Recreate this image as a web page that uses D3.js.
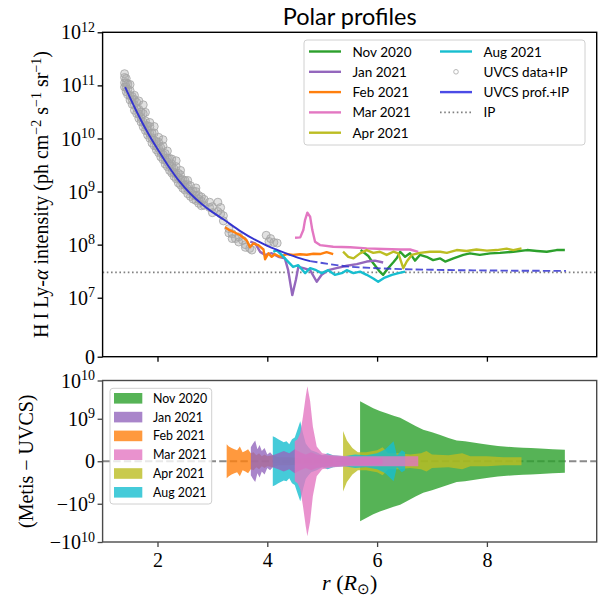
<!DOCTYPE html>
<html>
<head>
<meta charset="utf-8">
<script src="https://cdn.jsdelivr.net/npm/d3@7"></script>
<style>
  body { margin: 0; background: #fff; }
  svg { display: block; }
</style>
</head>
<body>
<svg id="chart" width="601" height="602"></svg>
<script>
// ---------------- data ----------------
const months = ["Nov 2020", "Jan 2021", "Feb 2021", "Mar 2021", "Apr 2021", "Aug 2021"];
const monthColors = ["#2ca02c", "#9467bd", "#ff7f0e", "#e377c2", "#bcbd22", "#17becf"];

// interplanetary (IP) background level
const ipLevel = 3.0e7;

// UVCS fitted profile (+IP): solid within the data range, dashed beyond
const uvcsProfR = [1.41, 1.6, 1.8, 2.0, 2.2, 2.4, 2.6, 2.8, 3.0, 3.2, 3.5, 3.8, 4.0, 4.2, 4.4, 4.6, 4.78];
const uvcsProfI = [9.3e10, 3.55e10, 1.41e10, 6.3e9, 3.0e9, 1.55e9, 9.1e8, 5.9e8, 4.1e8, 3.0e8, 1.82e8, 1.2e8, 9.5e7, 7.8e7, 6.5e7, 5.5e7, 4.9e7];
const uvcsExtR = [4.78, 5.0, 5.5, 6.0, 6.5, 7.0, 7.5, 8.0, 8.5, 9.0, 9.44];
const uvcsExtI = [4.9e7, 4.5e7, 3.85e7, 3.6e7, 3.45e7, 3.36e7, 3.3e7, 3.26e7, 3.23e7, 3.21e7, 3.2e7];

// UVCS measurements (+IP): [r, intensity]
const uvcsData = [
  [1.40, 9.3e10], [1.40, 1.12e11], [1.40, 1.41e11], [1.40, 1.66e11],
  [1.43, 7.6e10], [1.43, 9.3e10], [1.43, 1.12e11], [1.43, 1.35e11],
  [1.46, 6.7e10], [1.46, 8.4e10], [1.46, 1.06e11],
  [1.50, 5.3e10], [1.50, 6.4e10], [1.50, 8.0e10], [1.50, 1.04e11],
  [1.54, 4.4e10], [1.54, 5.4e10], [1.54, 6.2e10],
  [1.58, 3.4e10], [1.58, 4.3e10], [1.58, 5.4e10], [1.58, 6.5e10],
  [1.62, 2.95e10], [1.62, 3.7e10], [1.62, 4.8e10],
  [1.66, 2.4e10], [1.66, 2.9e10], [1.66, 3.55e10], [1.66, 5.1e10],
  [1.70, 2.04e10], [1.70, 2.5e10], [1.70, 3.16e10],
  [1.74, 1.66e10], [1.74, 2.04e10], [1.74, 2.95e10], [1.74, 4.3e10],
  [1.78, 1.41e10], [1.78, 1.78e10], [1.78, 2.14e10], [1.78, 3.1e10],
  [1.82, 1.16e10], [1.82, 1.4e10], [1.82, 1.72e10],
  [1.86, 1.01e10], [1.86, 1.24e10], [1.86, 1.68e10], [1.86, 2.0e10],
  [1.90, 8.2e9], [1.90, 1.03e10], [1.90, 1.27e10],
  [1.94, 7.3e9], [1.94, 9.2e9], [1.94, 1.27e10], [1.94, 1.68e10],
  [1.98, 6.1e9], [1.98, 7.3e9], [1.98, 8.8e9],
  [2.02, 5.4e9], [2.02, 6.6e9], [2.02, 8.5e9], [2.02, 1.05e10],
  [2.06, 4.5e9], [2.06, 5.6e9], [2.06, 6.7e9],
  [2.10, 4.0e9], [2.10, 5.0e9], [2.10, 7.2e9], [2.10, 9.5e9],
  [2.14, 3.3e9], [2.14, 4.0e9], [2.14, 5.2e9],
  [2.18, 2.95e9], [2.18, 3.6e9], [2.18, 4.3e9], [2.18, 5.8e9],
  [2.22, 2.5e9], [2.22, 3.1e9], [2.22, 4.2e9],
  [2.26, 2.24e9], [2.26, 2.8e9], [2.26, 3.3e9], [2.26, 4.1e9],
  [2.30, 1.93e9], [2.30, 2.3e9], [2.30, 2.7e9],
  [2.34, 1.74e9], [2.34, 2.14e9], [2.34, 2.95e9], [2.34, 3.8e9],
  [2.38, 1.45e9], [2.38, 1.82e9], [2.38, 2.2e9],
  [2.42, 1.33e9], [2.42, 1.68e9], [2.42, 2.07e9], [2.42, 2.5e9],
  [2.46, 1.16e9], [2.46, 1.4e9], [2.46, 1.68e9],
  [2.50, 1.07e9], [2.50, 1.32e9], [2.50, 1.62e9],
  [2.55, 9.1e8], [2.55, 1.12e9], [2.55, 1.35e9], [2.55, 1.62e9],
  [2.60, 8.1e8], [2.60, 1.02e9], [2.60, 1.29e9],
  [2.65, 7.2e8], [2.65, 8.7e8], [2.65, 1.02e9],
  [2.70, 6.8e8], [2.70, 8.3e8], [2.70, 1.0e9], [2.70, 1.17e9],
  [2.75, 6.0e8], [2.75, 7.2e8], [2.75, 8.4e8],
  [2.80, 5.4e8], [2.80, 6.6e8], [2.80, 7.9e8],
  [2.85, 5.5e8], [2.85, 7.1e8], [2.95, 5.0e8], [2.95, 6.3e8],
  [3.00, 4.0e8], [3.00, 5.2e8], [3.10, 4.2e8], [3.10, 6.3e8],
  [3.15, 5.0e8], [3.15, 3.8e8], [3.20, 2.8e8], [3.20, 3.5e8],
  [3.30, 1.66e8], [3.30, 2.0e8], [3.36, 1.6e8], [3.36, 1.3e8],
  [3.42, 1.3e8], [3.48, 1.12e8], [3.48, 1.4e8], [3.55, 1.2e8],
  [3.60, 1.0e8], [3.60, 8.9e7], [3.68, 8.5e7], [3.72, 7.9e7],
  [3.98, 1.5e8], [4.03, 1.15e8], [4.06, 1.3e8], [4.12, 1.1e8], [4.18, 1.07e8]
];

// Metis polar intensity profiles: [r, intensity]
const metisNov2020 = [[5.70, 7.9e7], [5.84, 6.1e7], [5.93, 4.45e7], [6.05, 3.1e7], [6.11, 2.7e7], [6.20, 3.6e7], [6.30, 4.7e7], [6.36, 5.6e7], [6.42, 7.35e7], [6.51, 5.9e7], [6.60, 6.85e7], [6.69, 5.0e7], [6.78, 6.4e7], [6.90, 5.9e7], [7.02, 5.1e7], [7.15, 5.5e7], [7.24, 4.8e7], [7.39, 5.5e7], [7.57, 6.4e7], [7.69, 6.85e7], [7.87, 6.4e7], [8.06, 6.85e7], [8.24, 7.0e7], [8.48, 7.35e7], [8.73, 7.9e7], [8.91, 7.6e7], [9.09, 7.35e7], [9.27, 7.9e7], [9.42, 7.9e7]];
const metisJan2021 = [[3.69, 1.14e8], [3.78, 1.06e8], [3.87, 7.3e7], [3.96, 6.4e7], [4.08, 6.9e7], [4.20, 5.9e7], [4.32, 5.5e7], [4.38, 3.3e7], [4.455, 1.12e7], [4.52, 2.15e7], [4.565, 3.8e7], [4.66, 3.6e7], [4.78, 3.3e7], [4.90, 2.0e7], [4.99, 2.7e7], [5.11, 3.3e7], [5.26, 3.6e7], [5.45, 4.0e7], [5.63, 4.3e7], [5.81, 4.8e7], [5.96, 5.0e7], [6.11, 4.6e7]];
const metisFeb2021 = [[3.23, 2.12e8], [3.30, 1.9e8], [3.38, 1.75e8], [3.50, 1.52e8], [3.62, 1.22e8], [3.685, 8.9e7], [3.745, 1.05e8], [3.836, 9.8e7], [3.93, 8.1e7], [3.96, 5.3e7], [4.02, 6.85e7], [4.08, 5.9e7], [4.14, 6.6e7], [4.23, 5.9e7], [4.35, 6.65e7], [4.47, 6.4e7], [4.595, 6.6e7], [4.72, 6.45e7], [4.84, 6.75e7], [4.96, 6.65e7], [5.08, 7.2e7], [5.20, 6.6e7]];
const metisMar2021 = [[4.505, 1.35e8], [4.60, 1.37e8], [4.656, 1.88e8], [4.687, 2.9e8], [4.73, 4.0e8], [4.78, 3.35e8], [4.82, 1.88e8], [4.87, 1.13e8], [4.96, 9.8e7], [5.20, 9.1e7], [5.51, 8.9e7], [5.81, 8.5e7], [6.11, 8.3e7], [6.42, 8.1e7], [6.60, 8.1e7], [6.75, 7.3e7]];
const metisApr2021 = [[5.38, 7.35e7], [5.475, 5.9e7], [5.57, 5.5e7], [5.69, 6.85e7], [5.81, 7.9e7], [5.93, 7.0e7], [6.05, 7.35e7], [6.175, 6.4e7], [6.295, 7.35e7], [6.386, 6.85e7], [6.477, 3.6e7], [6.54, 4.8e7], [6.63, 6.4e7], [6.78, 7.0e7], [6.96, 7.35e7], [7.15, 7.35e7], [7.27, 7.0e7], [7.45, 7.9e7], [7.63, 7.6e7], [7.81, 8.1e7], [8.0, 7.7e7], [8.18, 7.9e7], [8.36, 8.4e7], [8.48, 7.9e7], [8.63, 8.5e7]];
const metisAug2021 = [[4.11, 7.3e7], [4.17, 7.9e7], [4.26, 6.4e7], [4.35, 5.1e7], [4.47, 3.8e7], [4.565, 4.1e7], [4.69, 2.9e7], [4.78, 3.6e7], [4.89, 3.3e7], [4.99, 2.9e7], [5.11, 3.3e7], [5.23, 2.7e7], [5.355, 2.9e7], [5.446, 3.3e7], [5.57, 2.9e7], [5.69, 3.1e7], [5.81, 2.7e7], [5.93, 2.3e7], [6.02, 2.0e7], [6.14, 2.4e7], [6.27, 2.7e7], [6.39, 2.9e7], [6.51, 3.1e7]];

// |Metis - UVCS| envelopes: [r, magnitude], filled symmetrically about zero
const diffNov2020 = [[5.69, 2.87e9], [5.81, 2.32e9], [5.93, 1.88e9], [6.05, 1.6e9], [6.17, 1.39e9], [6.30, 1.2e9], [6.42, 1.06e9], [6.54, 9.4e8], [6.70, 8.3e8], [6.84, 7.4e8], [7.0, 6.8e8], [7.15, 6.2e8], [7.30, 5.5e8], [7.45, 4.9e8], [7.60, 4.7e8], [7.75, 4.4e8], [7.90, 4.1e8], [8.06, 3.8e8], [8.20, 3.6e8], [8.36, 3.4e8], [8.50, 3.3e8], [8.66, 3.2e8], [8.80, 3.1e8], [8.97, 3.0e8], [9.20, 2.85e8], [9.42, 2.7e8]];
const diffJan2021 = [[3.70, 3.3e8], [3.74, 4.2e8], [3.78, 4.9e8], [3.82, 2.8e8], [3.86, 3.8e8], [3.90, 2.4e8], [3.95, 3.1e8], [4.00, 1.6e8], [4.05, 2.1e8], [4.10, 1.4e8], [4.20, 1.9e8], [4.30, 2.4e8], [4.40, 1.9e8], [4.50, 2.8e8], [4.60, 2.1e8], [4.70, 1.6e8], [4.80, 2.1e8], [4.90, 1.6e8], [5.00, 1.4e8], [5.20, 1.2e8], [5.50, 9.4e7], [5.80, 9.4e7], [6.10, 7.0e7]];
const diffFeb2021 = [[3.26, 4.0e8], [3.30, 3.5e8], [3.35, 3.1e8], [3.40, 2.8e8], [3.45, 2.6e8], [3.50, 3.5e8], [3.55, 2.1e8], [3.60, 2.4e8], [3.65, 2.8e8], [3.70, 1.9e8], [3.75, 2.1e8], [3.80, 1.4e8], [3.85, 1.9e8], [3.90, 1.2e8], [3.95, 1.6e8], [4.00, 1.2e8], [4.10, 1.4e8], [4.20, 9.4e7], [4.40, 9.4e7], [4.60, 7.0e7], [4.80, 9.4e7], [5.00, 7.0e7], [5.20, 9.4e7]];
const diffMar2021 = [[4.50, 4.7e8], [4.55, 5.2e8], [4.60, 6.6e8], [4.65, 1.16e9], [4.70, 3.9e9], [4.73, 7.1e9], [4.78, 2.9e9], [4.83, 8.2e8], [4.90, 3.5e8], [5.00, 1.9e8], [5.20, 1.4e8], [5.50, 1.2e8], [6.00, 1.2e8], [6.40, 1.2e8], [6.75, 1.2e8]];
const diffApr2021 = [[5.38, 7.1e8], [5.45, 4.9e8], [5.55, 3.1e8], [5.65, 2.1e8], [5.80, 2.1e8], [6.00, 2.6e8], [6.10, 3.3e8], [6.20, 1.9e8], [6.40, 1.9e8], [6.60, 1.6e8], [6.80, 1.9e8], [6.90, 2.4e8], [7.00, 1.6e8], [7.30, 1.4e8], [7.55, 1.9e8], [7.70, 1.2e8], [8.00, 1.2e8], [8.30, 9.4e7], [8.63, 9.4e7]];
const diffAug2021 = [[4.10, 5.9e8], [4.15, 5.6e8], [4.20, 5.2e8], [4.30, 4.5e8], [4.35, 4.7e8], [4.40, 4.0e8], [4.45, 5.2e8], [4.50, 5.6e8], [4.55, 7.5e8], [4.60, 9.4e8], [4.65, 6.6e8], [4.70, 4.2e8], [4.75, 3.3e8], [4.80, 2.6e8], [4.90, 2.1e8], [5.00, 1.4e8], [5.10, 1.9e8], [5.20, 1.4e8], [5.40, 1.2e8], [5.60, 1.6e8], [5.80, 1.4e8], [6.00, 1.9e8], [6.15, 2.8e8], [6.30, 4.7e8], [6.36, 1.4e8], [6.45, 2.6e8], [6.51, 2.1e8]];

const metisSeries = [metisNov2020, metisJan2021, metisFeb2021, metisMar2021, metisApr2021, metisAug2021];
const diffSeries = [diffNov2020, diffJan2021, diffFeb2021, diffMar2021, diffApr2021, diffAug2021];
// stacking order of the difference envelopes (index into months)
const diffOrder = [0, 4, 2, 5, 1, 3];

const topTicks = [0, 1e7, 1e8, 1e9, 1e10, 1e11, 1e12];
const bottomTicks = [-1e10, -1e9, 0, 1e9, 1e10];
const xTicks = [2, 4, 6, 8];

// ---------------- layout ----------------
const svg = d3.select("#chart");
const serif = "'Liberation Serif', 'Times New Roman', serif";
const sans = "Lato, 'Open Sans', sans-serif";

const left = 102.6, right = 596.7;
const topAx = { top: 32.3, bottom: 356.7 };
const botAx = { top: 380.5, bottom: 542 };

// matplotlib-style symmetric log transform (base 10, linscale 1)
function symlog(v, thresh) {
  const a = Math.abs(v), lin = 1 / (1 - 1 / 10);
  const t = a <= thresh ? (a / thresh) * lin : lin + Math.log10(a / thresh);
  return v < 0 ? -t : t;
}

const x = d3.scaleLinear().domain([1, 10]).range([left, right]);
const yTopT = d3.scaleLinear().domain([0, symlog(1e12, 1e7)]).range([topAx.bottom, topAx.top]);
const yTop = v => yTopT(symlog(v, 1e7));
const yBotT = d3.scaleLinear().domain([symlog(-1e10, 1e9), symlog(1e10, 1e9)]).range([botAx.bottom, botAx.top]);
const yBot = v => yBotT(symlog(v, 1e9));

const defs = svg.append("defs");
defs.append("clipPath").attr("id", "clipTop").append("rect")
  .attr("x", left).attr("y", topAx.top).attr("width", right - left).attr("height", topAx.bottom - topAx.top);
defs.append("clipPath").attr("id", "clipBot").append("rect")
  .attr("x", left).attr("y", botAx.top).attr("width", right - left).attr("height", botAx.bottom - botAx.top);

// ---------------- top panel: intensity profiles ----------------
const gTop = svg.append("g").attr("clip-path", "url(#clipTop)");

// IP level
gTop.append("line")
  .attr("x1", left).attr("x2", right)
  .attr("y1", yTop(ipLevel)).attr("y2", yTop(ipLevel))
  .attr("stroke", "#808080").attr("stroke-width", 1.6).attr("stroke-dasharray", "1.6,2.6");

// UVCS data points
gTop.append("g").selectAll("circle").data(uvcsData).join("circle")
  .attr("cx", d => x(d[0])).attr("cy", d => yTop(d[1])).attr("r", 4)
  .attr("fill", "#a8a8a8").attr("fill-opacity", 0.35)
  .attr("stroke", "#a4a4a4").attr("stroke-opacity", 0.8).attr("stroke-width", 1);

// Metis profiles
const lineGen = d3.line().x(d => x(d[0])).y(d => yTop(d[1]));
metisSeries.forEach((s, i) => {
  gTop.append("path").datum(s).attr("d", lineGen)
    .attr("fill", "none").attr("stroke", monthColors[i]).attr("stroke-width", 2.4)
    .attr("stroke-linejoin", "round");
});

// UVCS profile
const profLine = d3.line().x(d => x(d[0])).y(d => yTop(d[1])).curve(d3.curveMonotoneX);
gTop.append("path").datum(uvcsProfR.map((r, i) => [r, uvcsProfI[i]])).attr("d", profLine)
  .attr("fill", "none").attr("stroke", "#3434cf").attr("stroke-width", 1.9);
gTop.append("path").datum(uvcsExtR.map((r, i) => [r, uvcsExtI[i]])).attr("d", profLine)
  .attr("fill", "none").attr("stroke", "#3434cf").attr("stroke-opacity", 0.85).attr("stroke-width", 1.9)
  .attr("stroke-dasharray", "7.4,3.2");

// ---------------- bottom panel: differences ----------------
const gBot = svg.append("g").attr("clip-path", "url(#clipBot)");
gBot.append("line")
  .attr("x1", left).attr("x2", right).attr("y1", yBot(0)).attr("y2", yBot(0))
  .attr("stroke", "#8a8a8a").attr("stroke-width", 1.9).attr("stroke-dasharray", "7.4,3.2");

const areaGen = d3.area().x(d => x(d[0])).y0(d => yBot(-d[1])).y1(d => yBot(d[1]));
diffOrder.forEach(i => {
  gBot.append("path").datum(diffSeries[i]).attr("d", areaGen)
    .attr("fill", monthColors[i]).attr("fill-opacity", 0.8).attr("stroke", "none");
});

// ---------------- axes ----------------
function powerLabel(text, v) {
  if (v === 0) { text.text("0"); return; }
  const e = Math.round(Math.log10(Math.abs(v)));
  text.append("tspan").text((v < 0 ? "\u2212" : "") + "10");
  text.append("tspan").attr("font-size", 14).attr("dy", -7.5).text(e);
}

function yAxis(scale, ticks, thresh, frameColor) {
  const g = svg.append("g").attr("transform", `translate(${left},0)`)
    .call(d3.axisLeft(scale).tickValues(ticks.map(v => symlog(v, thresh))).tickSize(5).tickFormat(""));
  g.select(".domain").remove();
  g.selectAll(".tick line").attr("stroke", frameColor).attr("stroke-width", 1.3);
  g.selectAll(".tick").each(function (d, i) {
    const t = d3.select(this).append("text")
      .attr("x", -7.5).attr("y", 6.6).attr("text-anchor", "end")
      .attr("font-family", serif).attr("font-size", 20).attr("fill", "#000");
    powerLabel(t, ticks[i]);
  });
}

function xAxis(yPos, withLabels, frameColor) {
  const g = svg.append("g").attr("transform", `translate(0,${yPos})`)
    .call(d3.axisBottom(x).tickValues(xTicks).tickSize(5).tickFormat(""));
  g.select(".domain").remove();
  g.selectAll(".tick line").attr("stroke", frameColor).attr("stroke-width", 1.3);
  if (withLabels) {
    g.selectAll(".tick").append("text")
      .attr("y", 25).attr("text-anchor", "middle")
      .attr("font-family", serif).attr("font-size", 20).attr("fill", "#000")
      .text(d => d);
  }
}

yAxis(yTopT, topTicks, 1e7, "#000");
xAxis(topAx.bottom, false, "#000");
yAxis(yBotT, bottomTicks, 1e9, "#444");
xAxis(botAx.bottom, true, "#444");

svg.append("rect").attr("x", left).attr("y", topAx.top)
  .attr("width", right - left).attr("height", topAx.bottom - topAx.top)
  .attr("fill", "none").attr("stroke", "#000").attr("stroke-width", 1.4);
svg.append("rect").attr("x", left).attr("y", botAx.top)
  .attr("width", right - left).attr("height", botAx.bottom - botAx.top)
  .attr("fill", "none").attr("stroke", "#4a4a4a").attr("stroke-width", 1.4);

// ---------------- titles and axis labels ----------------
svg.append("text").attr("x", (left + right) / 2).attr("y", 25)
  .attr("text-anchor", "middle").attr("font-family", sans).attr("font-size", 23.5)
  .attr("fill", "#000").text("Polar profiles");

const yl = svg.append("text")
  .attr("transform", `translate(48,${(topAx.top + topAx.bottom) / 2}) rotate(-90)`)
  .attr("text-anchor", "middle").attr("font-family", serif).attr("font-size", 20).attr("fill", "#000");
yl.append("tspan").text("H\u2009I Ly-");
yl.append("tspan").attr("font-style", "italic").text("\u03b1");
yl.append("tspan").text(" intensity (ph cm");
yl.append("tspan").attr("font-size", 14).attr("dy", -7).text("\u22122");
yl.append("tspan").attr("dy", 7).text(" s");
yl.append("tspan").attr("font-size", 14).attr("dy", -7).text("\u22121");
yl.append("tspan").attr("dy", 7).text(" sr");
yl.append("tspan").attr("font-size", 14).attr("dy", -7).text("\u22121");
yl.append("tspan").attr("dy", 7).text(")");

svg.append("text")
  .attr("transform", `translate(33,${(botAx.top + botAx.bottom) / 2}) rotate(-90)`)
  .attr("text-anchor", "middle").attr("font-family", serif).attr("font-size", 20).attr("fill", "#000")
  .text("(Metis \u2212 UVCS)");

const xl = svg.append("text").attr("x", (left + right) / 2).attr("y", 590)
  .attr("text-anchor", "middle").attr("font-family", serif).attr("font-size", 22).attr("fill", "#000");
xl.append("tspan").attr("font-style", "italic").text("r");
xl.append("tspan").text(" (");
xl.append("tspan").attr("font-style", "italic").text("R");
xl.append("tspan").attr("font-size", 15).attr("dy", 4).text("\u2299");
xl.append("tspan").attr("dy", -4).text(")");

// ---------------- legends ----------------
const legTop = svg.append("g");
legTop.append("rect").attr("x", 304).attr("y", 40).attr("width", 281).attr("height", 105)
  .attr("rx", 3).attr("fill", "#fff").attr("fill-opacity", 0.8).attr("stroke", "#d0d0d0").attr("stroke-width", 1);
const topEntries = months.slice(0, 5).map((m, i) => ({ label: m, kind: "line", color: monthColors[i] }))
  .concat([
    { label: months[5], kind: "line", color: monthColors[5] },
    { label: "UVCS data+IP", kind: "dot" },
    { label: "UVCS prof.+IP", kind: "line", color: "#4b4be6" },
    { label: "IP", kind: "dotted" }
  ]);
topEntries.forEach((e, i) => {
  const col = i < 5 ? 0 : 1, row = i < 5 ? i : i - 5;
  const x0 = col === 0 ? 309 : 440, yy = 51.5 + row * 20.3;
  const g = legTop.append("g");
  if (e.kind === "line") {
    g.append("line").attr("x1", x0).attr("x2", x0 + 32).attr("y1", yy).attr("y2", yy)
      .attr("stroke", e.color).attr("stroke-width", 2.4);
  } else if (e.kind === "dot") {
    g.append("circle").attr("cx", x0 + 16).attr("cy", yy).attr("r", 2.3)
      .attr("fill", "none").attr("stroke", "#b8b8b8").attr("stroke-width", 1);
  } else {
    g.append("line").attr("x1", x0).attr("x2", x0 + 32).attr("y1", yy).attr("y2", yy)
      .attr("stroke", "#808080").attr("stroke-width", 1.6).attr("stroke-dasharray", "1.6,2.6");
  }
  g.append("text").attr("x", x0 + 43.5).attr("y", yy + 5)
    .attr("font-family", sans).attr("font-size", 13.5).attr("fill", "#000").text(e.label);
});

const legBot = svg.append("g");
legBot.append("rect").attr("x", 110).attr("y", 388.3).attr("width", 101.7).attr("height", 115.7)
  .attr("rx", 3).attr("fill", "#fff").attr("fill-opacity", 0.8).attr("stroke", "#d0d0d0").attr("stroke-width", 1);
months.forEach((m, i) => {
  const yy = 398.3 + i * 18.8;
  legBot.append("rect").attr("x", 114).attr("y", yy - 5.3).attr("width", 28.3).attr("height", 10.6)
    .attr("fill", monthColors[i]).attr("fill-opacity", 0.8);
  legBot.append("text").attr("x", 153).attr("y", yy + 4.5)
    .attr("font-family", sans).attr("font-size", 12.4).attr("fill", "#000").text(m);
});
</script>
</body>
</html>
